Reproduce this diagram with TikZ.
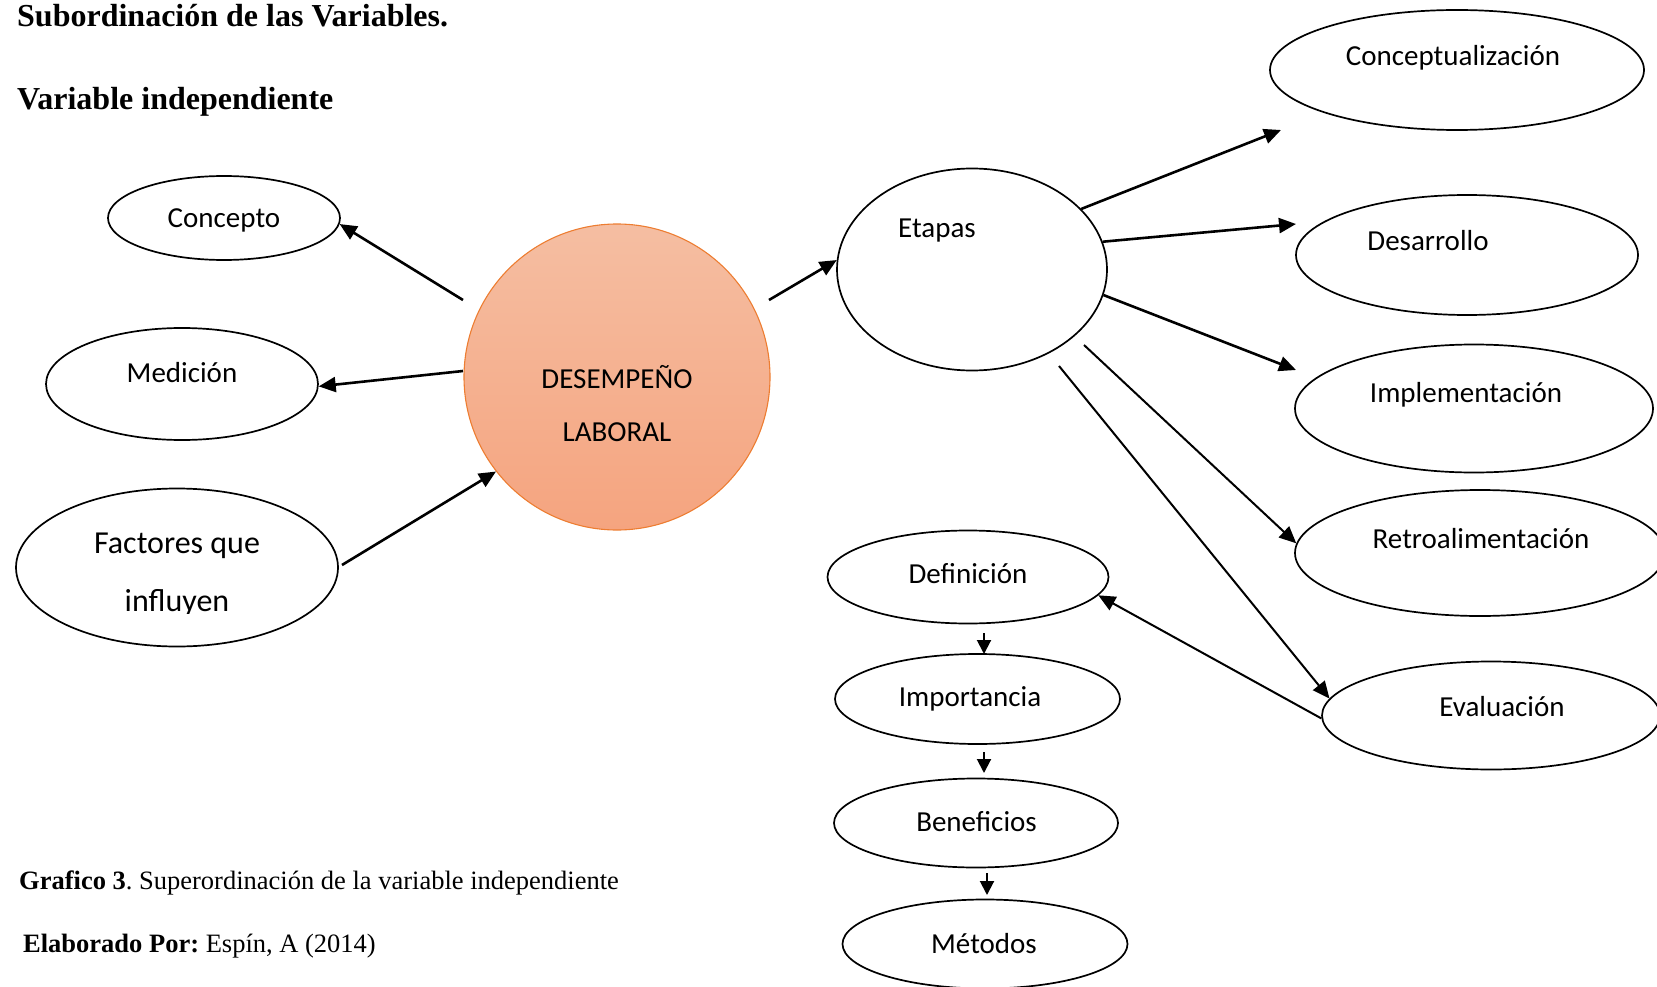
\documentclass[tikz,border=0pt]{standalone}
\usepackage{fontspec}
\setmainfont{Liberation Serif}
\newfontfamily\calibri{Carlito}
\usetikzlibrary{shapes.geometric,arrows.meta}
\frenchspacing

\begin{document}
\begin{tikzpicture}[x=1pt,y=-1pt,
  oval/.style={draw,ellipse,line width=1.7pt,inner sep=0pt},
  lbl/.style={font=\calibri\fontsize{29}{35}\selectfont,inner sep=0pt,anchor=base},
  biglbl/.style={lbl,font=\calibri\fontsize{32}{38}\selectfont},
  arr/.style={-{Triangle[length=17pt,width=15pt]},line width=2.6pt},
  thinarr/.style={-{Triangle[length=17pt,width=15pt]},line width=2pt},
  smallarr/.style={-{Triangle[length=14pt,width=14pt]},line width=2pt},
  head/.style={anchor=base west,inner sep=0pt,font=\bfseries\fontsize{32}{38}\selectfont},
  foot/.style={anchor=base west,inner sep=0pt,font=\fontsize{26.5}{31}\selectfont}]
\useasboundingbox (0,0) rectangle (1657,987);

% headings and caption
\node[head] (titulo) at (17,27) {Subordinación de las Variables.};
\node[head] (subtitulo) at (17,110) {Variable independiente};
\node[foot] (grafico) at (19,889) {\textbf{Grafico 3}. Superordinación de la variable independiente};
\node[foot] (autor) at (23,952) {\textbf{Elaborado Por:} Espín, A (2014)};

% central circle
\node[circle,minimum size=306pt,inner sep=0pt,draw={rgb,255:red,237;green,125;blue,49},line width=1.1pt,
  top color={rgb,255:red,245;green,190;blue,162},bottom color={rgb,255:red,245;green,164;blue,127}]
  (desempeno) at (617,377) {};
\node[lbl] (tdes1) at (617,388) {DESEMPEÑO};
\node[lbl] (tdes2) at (617,441) {LABORAL};

% left ovals
\node[oval,minimum width=232pt,minimum height=84pt] (concepto) at (224,218) {};
\node[lbl] (tconcepto) at (224,228) {Concepto};
\node[oval,minimum width=272pt,minimum height=112pt] (medicion) at (182,384) {};
\node[lbl] (tmedicion) at (182,382) {Medición};
\node[oval,minimum width=322pt,minimum height=158pt] (factores) at (177,567.5) {};
\node[biglbl] (tfact1) at (177,553) {Factores que};
\begin{scope}
  % the text frame cuts the second line just below its baseline
  \clip (0,560) rectangle (400,613);
  \node[biglbl] (tfact2) at (177,611) {influyen};
\end{scope}

% Etapas and its stages
\node[oval,minimum width=270pt,minimum height=202pt] (etapas) at (972,269.5) {};
\node[lbl] (tetapas) at (937,237) {Etapas};
\node[oval,minimum width=374pt,minimum height=120pt] (conceptualizacion) at (1457,70) {};
\node[lbl] (tconc) at (1453,66) {Conceptualización};
\node[oval,minimum width=342pt,minimum height=120pt] (desarrollo) at (1467,255) {};
\node[lbl] (tdesarrollo) at (1428,251) {Desarrollo};
\node[oval,minimum width=358pt,minimum height=128pt] (implementacion) at (1474,408.5) {};
\node[lbl] (timpl) at (1466,402) {Implementación};
\node[oval,minimum width=370pt,minimum height=126pt] (retro) at (1480,553) {};
\node[lbl] (tretro) at (1481,548) {Retroalimentación};
\node[oval,minimum width=338pt,minimum height=108pt] (evaluacion) at (1491,715.5) {};
\node[lbl] (teval) at (1502,716) {Evaluación};

% vertical chain
\node[oval,minimum width=281pt,minimum height=93pt] (definicion) at (968,577) {};
\node[lbl] (tdef) at (968,583) {Definición};
\node[oval,minimum width=285pt,minimum height=90pt] (importancia) at (977.5,699) {};
\node[lbl] (timp) at (970,706) {Importancia};
\node[oval,minimum width=284pt,minimum height=89pt] (beneficios) at (976,823) {};
\node[lbl] (tben) at (976.5,831) {Beneficios};
\node[oval,minimum width=285pt,minimum height=89pt] (metodos) at (985,944) {};
\node[lbl] (tmet) at (984,953) {Métodos};

% free ends of the connectors
\coordinate (s1) at (463,300);
\coordinate (s2) at (463,371);
\coordinate (s3) at (342,565);
\coordinate (s4) at (769,300);
\coordinate (t5) at (1281,130);
\coordinate (t6) at (1296,224);
\coordinate (t7) at (1296,370);
\coordinate (s8) at (1084,345);
\coordinate (s9) at (1059,366);
\coordinate (v1a) at (984,633);
\coordinate (v1b) at (984,654);
\coordinate (v2a) at (984,752);
\coordinate (v2b) at (984,773);
\coordinate (v3a) at (987,873);
\coordinate (v3b) at (987,895);

% connectors
\draw[arr] (s1) -- (concepto.-3);
\draw[arr] (s2) -- (medicion.-1);
\draw[arr] (s3) -- (desempeno.218);
\draw[arr] (s4) -- (etapas.176);
\draw[arr] (etapas.29) -- (t5);
\draw[arr] (etapas.12) -- (t6);
\draw[arr] (etapas.-11) -- (t7);
\draw[thinarr] (s8) -- (retro.177);
\draw[thinarr] (s9) -- (evaluacion.174);
\draw[thinarr] (evaluacion.181) -- (definicion.-8);
\draw[smallarr] (v1a) -- (v1b);
\draw[smallarr] (v2a) -- (v2b);
\draw[smallarr] (v3a) -- (v3b);
\end{tikzpicture}
\end{document}
